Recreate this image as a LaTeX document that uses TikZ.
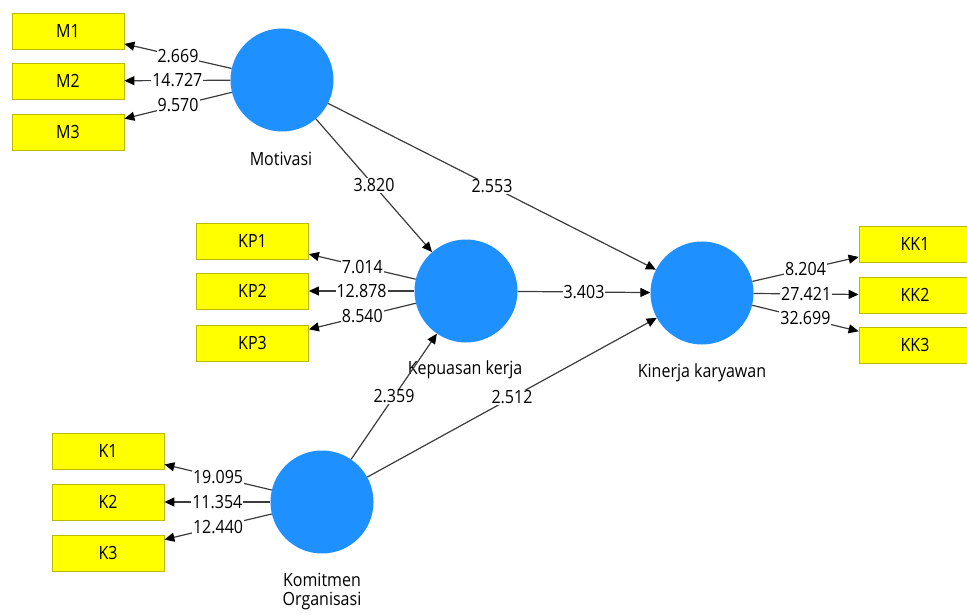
\documentclass[tikz,border=0pt]{standalone}
\usepackage{fontspec}
\setmainfont{Open Sans}[FakeStretch=0.88]
\usetikzlibrary{arrows.meta}
\definecolor{lvblue}{RGB}{30,144,255}
\definecolor{indyel}{RGB}{255,255,0}
\definecolor{indborder}{RGB}{185,185,0}
\definecolor{linegray}{RGB}{60,60,60}
\begin{document}
\begin{tikzpicture}[x=1pt,y=1pt,
  every node/.style={font=\fontsize{18.2pt}{20pt}\selectfont, text=black},
  latent/.style={circle, fill=lvblue, draw=none, minimum size=103pt, inner sep=0pt},
  indbox/.style={rectangle, fill=indyel, draw=indborder, line width=0.8pt, minimum width=112pt, minimum height=36pt, inner sep=0pt},
  conn/.style={draw=linegray, line width=1.2pt, -{Triangle[length=10pt,width=9pt,fill=black,color=black]}},
  val/.style={fill=white, inner sep=1pt, pos=0.5},
  lvcaption/.style={align=center, inner sep=0pt}
]
\clip (0,0) rectangle (967,-615);
\fill[white] (0,0) rectangle (967,-615);

% latent variables
\node[latent] (Mot) at (282,-80) {};
\node[latent] (Kep) at (466,-291) {};
\node[latent] (Kin) at (702,-293) {};
\node[latent] (Kom) at (322,-502) {};

\node[lvcaption] (MotL) at (281,-159) {Motivasi};
\node[lvcaption] (KepL) at (465,-370) {Kepuasan kerja};
\node[lvcaption] (KinL) at (702,-373) {Kinerja karyawan};
\node[lvcaption] (KomL) at (322,-592) {Komitmen\\[-1pt]Organisasi};

% indicators
\node[indbox] (M1) at (68,-31) {M1};
\node[indbox] (M2) at (68,-81) {M2};
\node[indbox] (M3) at (68,-132.5) {M3};

\node[indbox] (KP1) at (252.5,-241) {KP1};
\node[indbox] (KP2) at (252.5,-291) {KP2};
\node[indbox] (KP3) at (252.5,-343) {KP3};

\node[indbox] (KK1) at (915,-244) {KK1};
\node[indbox] (KK2) at (915,-295) {KK2};
\node[indbox] (KK3) at (915,-345) {KK3};

\node[indbox] (K1) at (108,-451) {K1};
\node[indbox] (K2) at (108,-502) {K2};
\node[indbox] (K3) at (108,-553) {K3};

% outer loadings
\draw[conn] (Mot) -- node[val] {2.669} (M1);
\draw[conn] (Mot) -- node[val] {14.727} (M2);
\draw[conn] (Mot) -- node[val] {9.570} (M3);

\draw[conn] (Kep) -- node[val] {7.014} (KP1);
\draw[conn] (Kep) -- node[val] {12.878} (KP2);
\draw[conn] (Kep) -- node[val] {8.540} (KP3);

\draw[conn] (Kin) -- node[val] {8.204} (KK1);
\draw[conn] (Kin) -- node[val] {27.421} (KK2);
\draw[conn] (Kin) -- node[val] {32.699} (KK3);

\draw[conn] (Kom) -- node[val] {19.095} (K1);
\draw[conn] (Kom) -- node[val] {11.354} (K2);
\draw[conn] (Kom) -- node[val] {12.440} (K3);

% structural paths
\draw[conn] (Mot) -- node[val] {3.820} (Kep);
\draw[conn] (Mot) -- node[val] {2.553} (Kin);
\draw[conn] (Kep) -- node[val] {3.403} (Kin);
\draw[conn] (Kom) -- node[val] {2.359} (Kep);
\draw[conn] (Kom) -- node[val] {2.512} (Kin);
\end{tikzpicture}
\end{document}
